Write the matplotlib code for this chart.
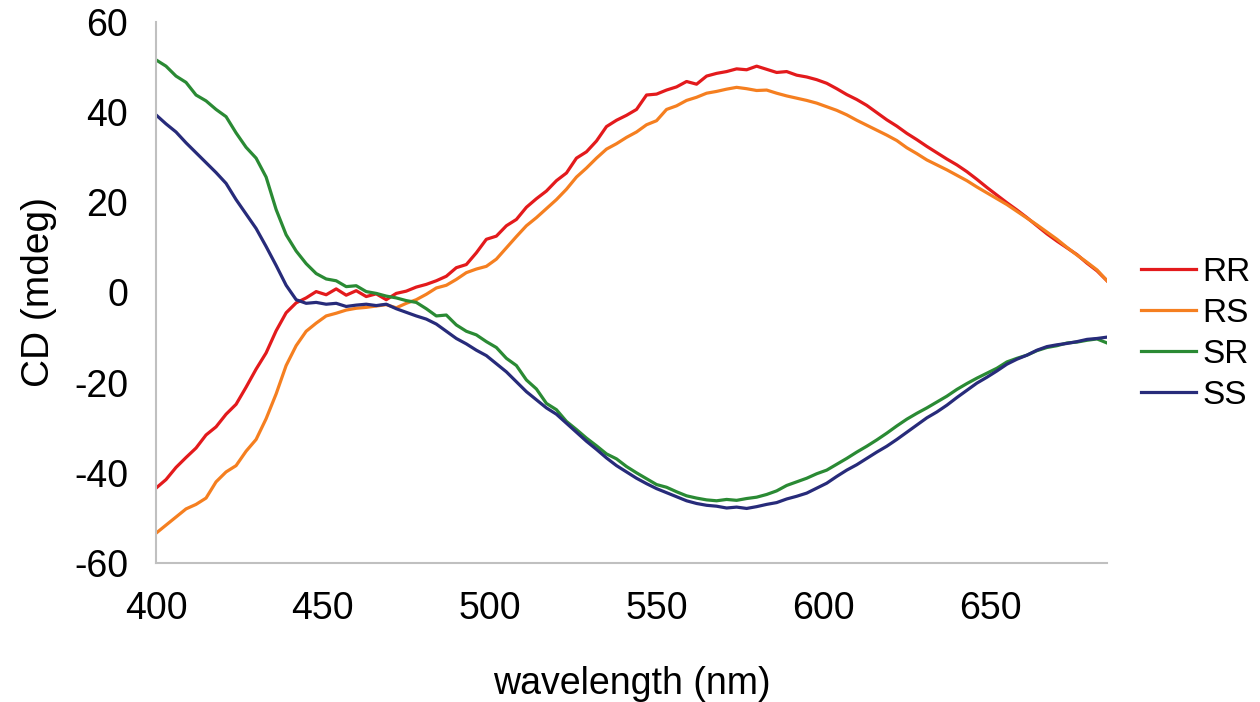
import numpy as np
import matplotlib
matplotlib.use("Agg")
import matplotlib.pyplot as plt

plt.rcParams['font.family'] = ['Liberation Sans', 'DejaVu Sans']
plt.rcParams['axes.unicode_minus'] = False

# wavelength grid (nm), 3 nm steps
wl = np.arange(400, 688, 3)

rr = [-43.4, -41.5, -38.8, -36.6, -34.5, -31.6, -29.8, -27.0, -24.8, -21.0,
      -17.0, -13.4, -8.5, -4.5, -2.3, -1.2, 0.2, -0.5, 0.8, -0.6,
      0.4, -0.9, -0.3, -1.6, -0.2, 0.3, 1.2, 1.8, 2.6, 3.6,
      5.5, 6.2, 8.8, 11.8, 12.5, 14.8, 16.2, 18.9, 20.8, 22.5,
      24.8, 26.5, 29.8, 31.2, 33.6, 36.8, 38.2, 39.3, 40.6, 43.8,
      44.0, 44.9, 45.6, 46.8, 46.2, 48.0, 48.6, 49.0, 49.6, 49.4,
      50.2, 49.5, 48.8, 49.0, 48.2, 47.8, 47.2, 46.4, 45.2, 43.9,
      42.8, 41.5, 39.9, 38.3, 36.9, 35.3, 33.9, 32.4, 31.0, 29.6,
      28.3, 26.8, 25.1, 23.3, 21.6, 19.9, 18.3, 16.6, 14.8, 13.0,
      11.4, 9.9, 8.4, 6.5, 4.8, 2.6]

rs = [-53.4, -51.6, -49.8, -48.0, -47.0, -45.6, -42.0, -39.8, -38.4, -35.2,
      -32.6, -28.0, -22.5, -16.2, -11.8, -8.6, -6.8, -5.2, -4.6, -3.9,
      -3.5, -3.3, -3.0, -2.7, -3.4, -2.4, -1.6, -0.4, 1.0, 1.6,
      2.9, 4.4, 5.2, 5.8, 7.4, 9.9, 12.4, 14.8, 16.6, 18.6,
      20.6, 22.9, 25.6, 27.6, 29.8, 31.8, 33.0, 34.4, 35.6, 37.2,
      38.1, 40.6, 41.4, 42.6, 43.3, 44.2, 44.6, 45.1, 45.5, 45.2,
      44.8, 44.9, 44.2, 43.6, 43.1, 42.6, 42.0, 41.2, 40.4, 39.4,
      38.2, 37.1, 36.0, 34.9, 33.7, 32.1, 30.8, 29.4, 28.3, 27.2,
      26.0, 24.8, 23.4, 22.1, 20.8, 19.5, 18.0, 16.5, 15.0, 13.4,
      11.8, 10.0, 8.3, 6.7, 5.0, 2.6]

sr = [51.6, 50.2, 48.0, 46.6, 43.8, 42.5, 40.6, 39.0, 35.4, 32.2,
      29.8, 25.6, 18.4, 12.8, 9.2, 6.4, 4.2, 3.0, 2.6, 1.3,
      1.5, 0.2, -0.2, -0.8, -1.2, -1.8, -2.2, -3.6, -5.2, -5.0,
      -7.2, -8.6, -9.4, -10.9, -12.2, -14.6, -16.2, -19.4, -21.4, -24.6,
      -26.0, -28.6, -30.4, -32.3, -34.0, -35.8, -36.9, -38.6, -40.0, -41.3,
      -42.6, -43.2, -44.2, -45.1, -45.6, -46.0, -46.2, -45.9, -46.1, -45.7,
      -45.4, -44.8, -44.0, -42.8, -42.0, -41.2, -40.2, -39.4, -38.1, -36.8,
      -35.4, -34.1, -32.7, -31.2, -29.6, -28.1, -26.8, -25.6, -24.3, -23.0,
      -21.5, -20.2, -19.0, -17.9, -16.8, -15.4, -14.6, -13.9, -12.9, -12.2,
      -11.8, -11.2, -11.0, -10.6, -10.3, -11.2]

ss = [39.4, 37.4, 35.6, 33.2, 31.0, 28.8, 26.6, 24.2, 20.6, 17.4,
      14.2, 10.2, 6.0, 1.6, -1.6, -2.4, -2.2, -2.6, -2.4, -3.1,
      -2.8, -2.6, -2.9, -2.6, -3.6, -4.4, -5.2, -5.9, -7.0, -8.6,
      -10.2, -11.4, -12.8, -14.0, -15.8, -17.6, -19.8, -22.0, -23.8, -25.6,
      -27.0, -29.0, -31.0, -33.0, -34.8, -36.7, -38.4, -39.8, -41.2, -42.4,
      -43.5, -44.4, -45.3, -46.2, -46.8, -47.2, -47.4, -47.8, -47.6, -47.9,
      -47.5, -47.0, -46.6, -45.8, -45.2, -44.5, -43.4, -42.3, -40.8, -39.4,
      -38.2, -36.8, -35.4, -34.1, -32.6, -31.0, -29.4, -27.8, -26.5, -25.0,
      -23.3, -21.7, -20.1, -18.8, -17.4, -15.9, -14.8, -13.9, -12.8, -12.0,
      -11.6, -11.3, -10.9, -10.4, -10.2, -9.9]

labels = ['RR', 'RS', 'SR', 'SS']
colors = ['#e31a1c', '#f57f20', '#2a8a34', '#272b7a']

fig = plt.figure(figsize=(12.6, 7.02), dpi=100)
ax = fig.add_axes([0.1238, 0.198, 0.7548, 0.7707])

for y, lab, c in zip([rr, rs, sr, ss], labels, colors):
    ax.plot(wl, y, color=c, lw=2.3, label=lab)

ax.set_xlim(400, 685)
ax.set_ylim(-60, 60)
ax.set_xticks([400, 450, 500, 550, 600, 650])
ax.set_yticks([-60, -40, -20, 0, 20, 40, 60])

for s in ['top', 'right']:
    ax.spines[s].set_visible(False)
for s in ['left', 'bottom']:
    ax.spines[s].set_color('#c0c0c0')
    ax.spines[s].set_linewidth(1.5)

ax.tick_params(length=0, labelsize=27, pad=20)
ax.set_xlabel('wavelength (nm)', fontsize=27, labelpad=28)
ax.set_ylabel('CD (mdeg)', fontsize=28, labelpad=12)

ax.legend(loc='center left', bbox_to_anchor=(1.004, 0.423), frameon=False,
          fontsize=24, handlelength=1.65, handletextpad=0.2, labelspacing=0.3)

fig.savefig('out.png', dpi=100)
